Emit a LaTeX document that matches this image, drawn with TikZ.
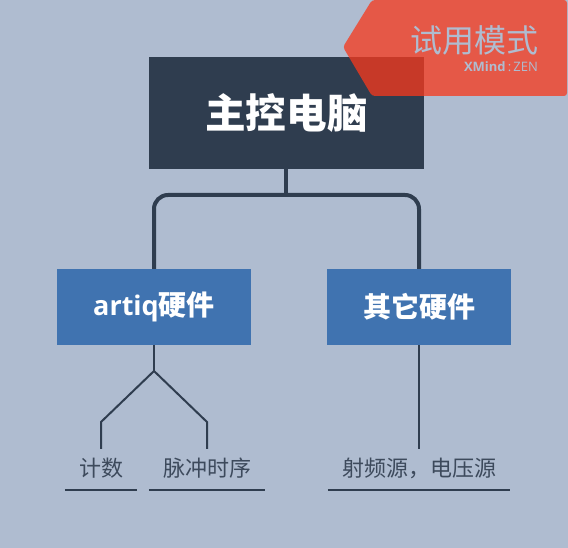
\documentclass[tikz,border=0pt]{standalone}
\usepackage{fontspec}
\setmainfont{Noto Sans CJK SC}
\newfontfamily\latinfont{Open Sans}
\definecolor{bgblue}{RGB}{175,188,208}
\definecolor{darkbox}{RGB}{47,61,79}
\definecolor{bluebox}{RGB}{64,115,176}
\definecolor{leaftext}{RGB}{61,74,92}
\definecolor{badgered}{RGB}{247,57,29}
\tikzset{
  mainbox/.style={fill=darkbox,text=white,font=\fontsize{40.6}{40}\selectfont\bfseries,inner sep=0,minimum width=275,minimum height=112},
  subbox/.style={fill=bluebox,text=white,font=\fontsize{28}{28}\selectfont\bfseries,inner sep=0,minimum height=76},
  leafnode/.style={text=leaftext,font=\fontsize{22}{22}\selectfont,inner sep=0,text height=27,text depth=14},
  thick link/.style={draw=darkbox,line width=4},
  thin link/.style={draw=darkbox,line width=2},
}
\begin{document}
\begin{tikzpicture}[x=1pt,y=-1pt]
\fill[bgblue] (0,0) rectangle (568,548);
\useasboundingbox (0,0) rectangle (568,548);
% top level
\node[mainbox] (main) at (286.5,113) {主控电脑};
\node[subbox,minimum width=194] (artiq) at (154,307) {{\latinfont\fontsize{27}{27}\selectfont artiq}硬件};
\node[subbox,minimum width=184] (other) at (419,307) {其它硬件};
\coordinate (junc) at (286,195);
\draw[thick link] (junc |- main.south) -- (junc);
\draw[thick link,rounded corners=14] (artiq.north) |- (junc) -| (other.north);
% leaves
\node[leafnode,minimum width=72] (count) at (101,469.5) {计数};
\node[leafnode,minimum width=116] (pulse) at (207,469.5) {脉冲时序};
\node[leafnode,minimum width=182] (source) at (419,469.5) {射频源，电压源};
\draw[thin link] (count.south west) -- (count.south east);
\draw[thin link] (pulse.south west) -- (pulse.south east);
\draw[thin link] (source.south west) -- (source.south east);
\coordinate (fork) at (154,371);
\coordinate (forkl) at (101,422);
\coordinate (forkr) at (207,422);
\draw[thin link] (artiq.south) -- (fork);
\draw[thin link] (count.north) -- (forkl) -- (fork) -- (forkr) -- (pulse.north);
\draw[thin link] (other.south) -- (source.north);
% trial badge
\fill[badgered,opacity=0.76,rounded corners=3] (372,0) -- (343,47) -- (372,96) -- (567,96) -- (567,0) -- cycle;
\node[text=bgblue,font=\fontsize{32}{32}\selectfont,inner sep=0] (trial) at (474.5,40) {试用模式};
\node[text=bgblue,font=\latinfont\fontsize{13}{13}\selectfont,inner sep=0] (brand) at (501,67) {\textbf{XMind}\,:\,ZEN};
\end{tikzpicture}
\end{document}
